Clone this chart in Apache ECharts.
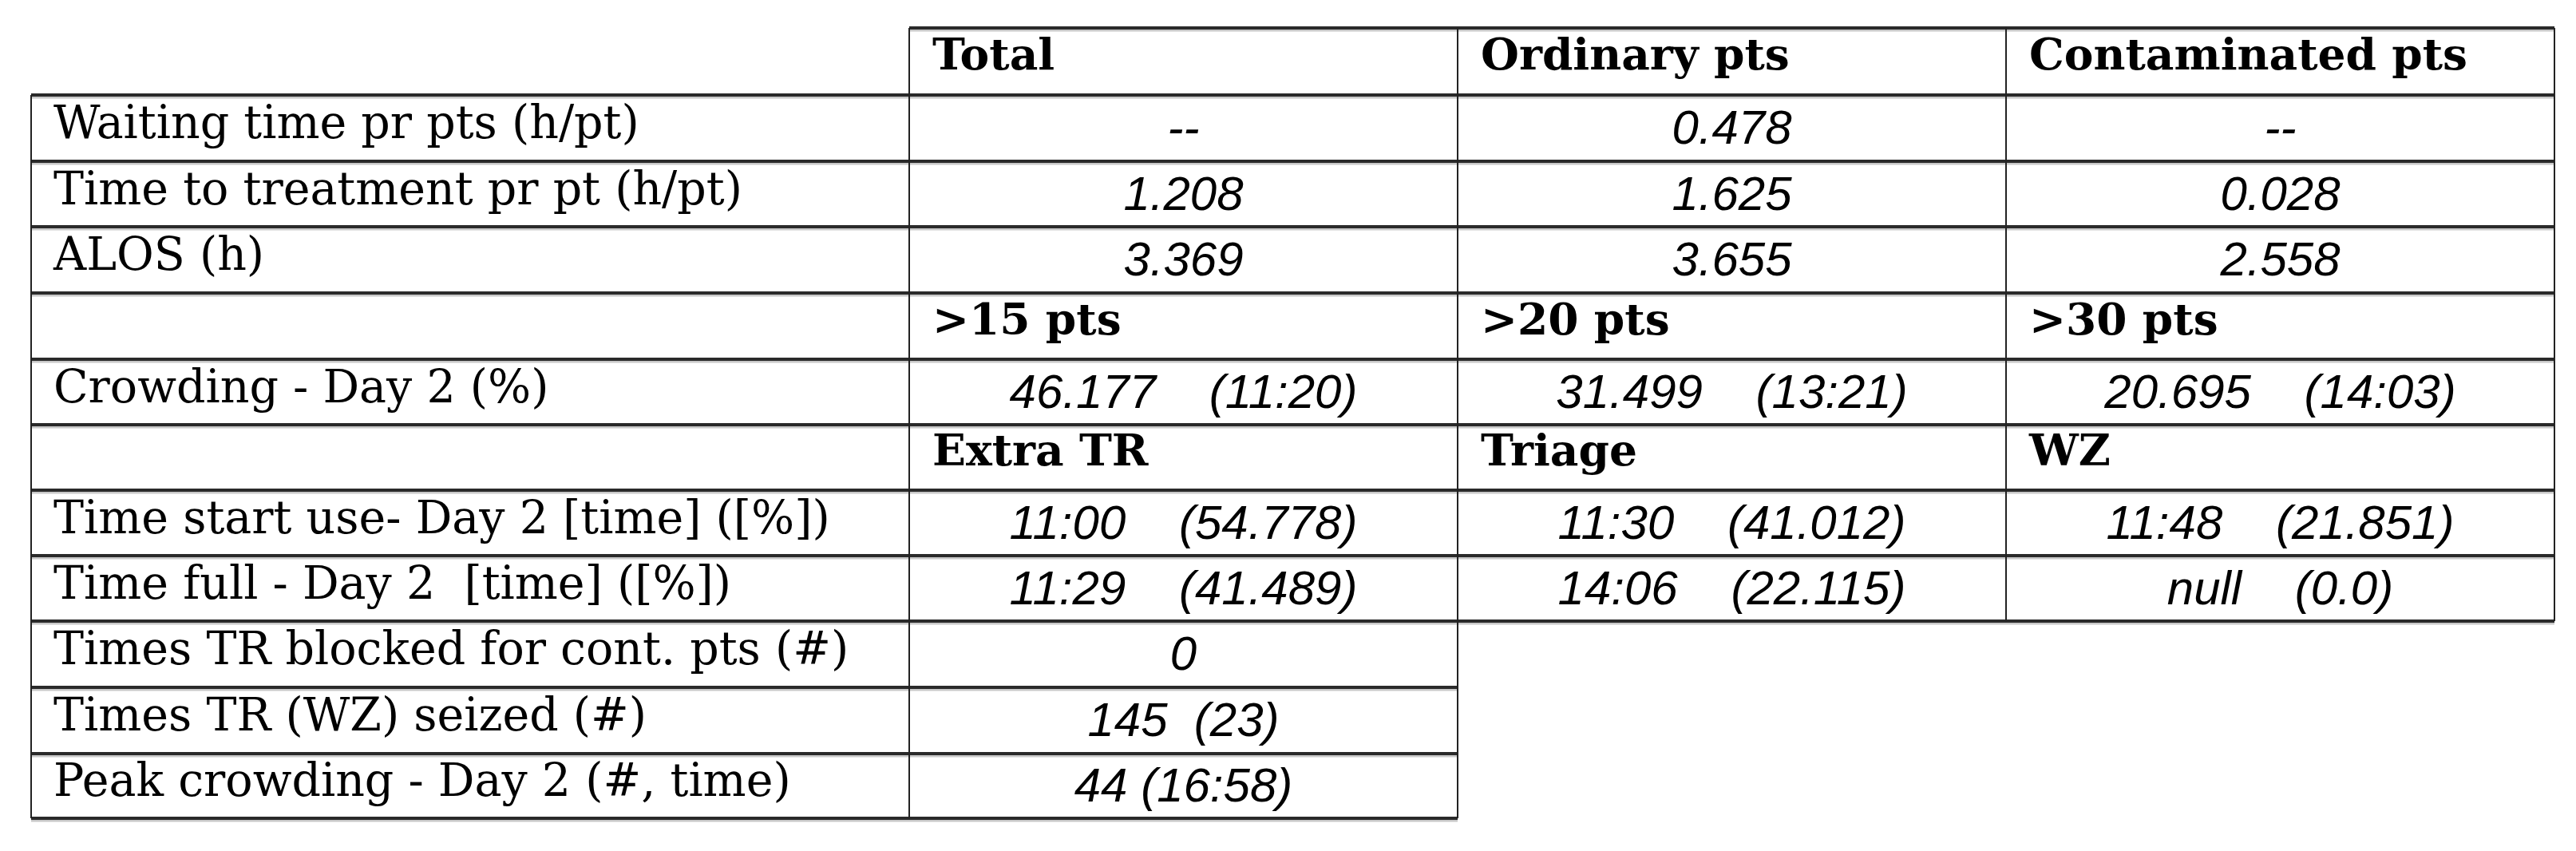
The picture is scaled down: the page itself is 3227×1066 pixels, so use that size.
<!DOCTYPE html>
<html>
<head>
<meta charset="utf-8">
<script src="https://cdn.jsdelivr.net/npm/echarts@6/dist/echarts.min.js"></script>
<style>html,body{margin:0;padding:0;background:#fff}#main{width:3227px;height:1066px}</style>
</head>
<body>
<div id="main"></div>
<script>
var chart = echarts.init(document.getElementById('main'));

// table content
var rowLabels = ['', 'Waiting time pr pts (h/pt)', 'Time to treatment pr pt (h/pt)', 'ALOS (h)', '',
  'Crowding - Day 2 (%)', '', 'Time start use- Day 2 [time] ([%])', 'Time full - Day 2  [time] ([%])',
  'Times TR blocked for cont. pts (#)', 'Times TR (WZ) seized (#)', 'Peak crowding - Day 2 (#, time)'];
var headerRows = { 0: ['Total', 'Ordinary pts', 'Contaminated pts'], 4: ['>15 pts', '>20 pts', '>30 pts'], 6: ['Extra TR', 'Triage', 'WZ'] };
var totalCol = ['--', '1.208', '3.369', '46.177    (11:20)', '11:00    (54.778)', '11:29    (41.489)', '0', '145  (23)', '44 (16:58)'];
var ordinaryCol = ['0.478', '1.625', '3.655', '31.499    (13:21)', '11:30    (41.012)', '14:06    (22.115)'];
var contaminatedCol = ['--', '0.028', '2.558', '20.695    (14:03)', '11:48    (21.851)', 'null    (0.0)'];
var valueRows = [1, 2, 3, 5, 7, 8, 9, 10, 11];

// layout
var colX = [39, 1139, 1826, 2513, 3200];
var rowY = [35, 119, 202, 284, 367, 450, 532, 614, 696, 778, 861, 944, 1025];

var g = [];
function hline(y, x1, x2) {
  g.push({ type: 'line', shape: { x1: x1, y1: y + 3, x2: x2, y2: y + 3 }, style: { stroke: '#c8c8c8', lineWidth: 3 } });
  g.push({ type: 'line', shape: { x1: x1, y1: y, x2: x2, y2: y }, style: { stroke: '#2a2a2a', lineWidth: 4 } });
}
function vline(x, y1, y2) {
  g.push({ type: 'line', shape: { x1: x, y1: y1, x2: x, y2: y2 }, style: { stroke: '#222', lineWidth: 2 } });
}
rowY.forEach(function (y, i) {
  if (i === 0) hline(y, colX[1], colX[4]);
  else if (i <= 9) hline(y, colX[0], colX[4]);
  else hline(y, colX[0], colX[2]);
});
vline(colX[0], rowY[1], rowY[12]);
vline(colX[1], rowY[0], rowY[12]);
vline(colX[2], rowY[0], rowY[12]);
vline(colX[3], rowY[0], rowY[9]);
vline(colX[4], rowY[0], rowY[9]);

function cy(r) { return (rowY[r] + rowY[r + 1]) / 2; }
rowLabels.forEach(function (t, r) {
  if (!t) return;
  g.push({ type: 'text', x: colX[0] + 28, y: cy(r) - 2, style: { text: t, fill: '#000', font: '57px "DejaVu Serif"', verticalAlign: 'middle' } });
});
Object.keys(headerRows).forEach(function (k) {
  var r = +k;
  headerRows[k].forEach(function (t, c) {
    g.push({ type: 'text', x: colX[c + 1] + 29, y: cy(r) - 4, style: { text: t, fill: '#000', font: 'bold 55px "DejaVu Serif"', verticalAlign: 'middle' } });
  });
});
[totalCol, ordinaryCol, contaminatedCol].forEach(function (col, c) {
  col.forEach(function (t, i) {
    var r = valueRows[i];
    g.push({ type: 'text', x: (colX[c + 1] + colX[c + 2]) / 2, y: cy(r) + 3, style: { text: t, fill: '#000', font: 'italic 60px "Liberation Sans"', align: 'center', verticalAlign: 'middle' } });
  });
});

chart.setOption({ backgroundColor: '#fff', animation: false, graphic: g });
</script>
</body>
</html>
